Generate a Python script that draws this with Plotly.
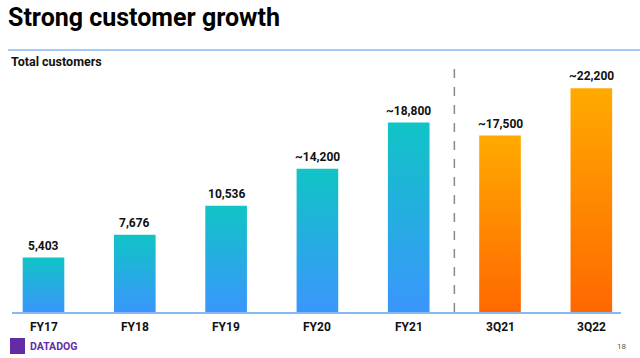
import plotly.graph_objects as go

# ---- data ----
categories = ["FY17", "FY18", "FY19", "FY20", "FY21", "3Q21", "3Q22"]
customers = [5403, 7676, 10536, 14200, 18800, 17500, 22200]
value_labels = ["5,403", "7,676", "10,536", "~14,200", "~18,800", "~17,500", "~22,200"]
is_quarter = [False, False, False, False, False, True, True]

# ---- style ----
FONT = "Roboto"
BLUE_GRAD = [[0, "rgb(58,150,252)"], [1, "rgb(16,196,198)"]]
ORANGE_GRAD = [[0, "rgb(255,104,0)"], [1, "rgb(255,170,0)"]]
LINE_BLUE = "#86b9f3"
HALF_W = 0.228

W, H = 640, 358
L, R, T, B = 12, 19, 60, 46
pw, ph = W - L - R, H - T - B

def px_x(px):
    return (px - L) / pw

def px_y(py):
    return (H - B - py) / ph

fig = go.Figure()
for i, (cat, v, q) in enumerate(zip(categories, customers, is_quarter)):
    fig.add_trace(go.Scatter(
        x=[i - HALF_W, i + HALF_W, i + HALF_W, i - HALF_W, i - HALF_W],
        y=[0, 0, v, v, 0],
        mode="lines", line=dict(width=0), fill="toself",
        fillgradient=dict(type="vertical",
                          colorscale=ORANGE_GRAD if q else BLUE_GRAD,
                          start=0, stop=v),
        hoverinfo="skip", showlegend=False,
    ))
    fig.add_annotation(x=i, y=v, xref="x", yref="y", text=f"<b>{value_labels[i]}</b>",
                       showarrow=False, yanchor="bottom", yshift=3,
                       font=dict(family=FONT, size=12, color="#111"))
    fig.add_annotation(x=i, y=px_y(327), xref="x", yref="paper", text=f"<b>{cat}</b>",
                       showarrow=False, yanchor="middle", xanchor="center",
                       font=dict(family=FONT, size=12, color="#111"))

fig.update_layout(
    width=W, height=H,
    margin=dict(l=L, r=R, t=T, b=B),
    paper_bgcolor="white", plot_bgcolor="white",
    title=dict(text="<b>Strong customer growth</b>", x=8 / W, xanchor="left",
               xref="container", yref="container", y=1 - 17 / H, yanchor="middle",
               font=dict(family=FONT, size=25, color="#000")),
    xaxis=dict(range=[-0.345, 6.325], showticklabels=False,
               showgrid=False, zeroline=False, showline=True, linecolor=LINE_BLUE,
               linewidth=1.5, ticks="", fixedrange=True),
    yaxis=dict(range=[0, 25000], visible=False, showgrid=False, zeroline=False,
               fixedrange=True),
    shapes=[
        dict(type="line", xref="paper", yref="paper", x0=px_x(8), x1=px_x(640),
             y0=px_y(50), y1=px_y(50), line=dict(color=LINE_BLUE, width=1.5)),
        dict(type="line", xref="x", yref="paper", x0=4.5, x1=4.5,
             y0=0, y1=px_y(62), line=dict(color="#8a8a8a", width=1.5, dash="dash")),
        dict(type="rect", xref="paper", yref="paper", x0=px_x(10), x1=px_x(25),
             y0=px_y(354), y1=px_y(338), fillcolor="#632ca6", line=dict(width=0)),
    ],
    annotations=list(fig.layout.annotations) + [
        dict(text="<b>Total customers</b>", xref="paper", yref="paper",
             x=px_x(9), y=px_y(61), xanchor="left", yanchor="middle", showarrow=False,
             font=dict(family=FONT, size=12.5, color="#111")),
        dict(text="<b>DATADOG</b>", xref="paper", yref="paper", x=px_x(28), y=px_y(346),
             xanchor="left", yanchor="middle", showarrow=False,
             font=dict(family=FONT, size=10.5, color="#632ca6")),
        dict(text="18", xref="paper", yref="paper", x=px_x(621), y=px_y(346),
             xanchor="center", yanchor="middle", showarrow=False,
             font=dict(family=FONT, size=8, color="#555")),
    ],
)

fig.write_html("out.html", config={"displayModeBar": False},
               post_script="document.body.style.margin='0';")
